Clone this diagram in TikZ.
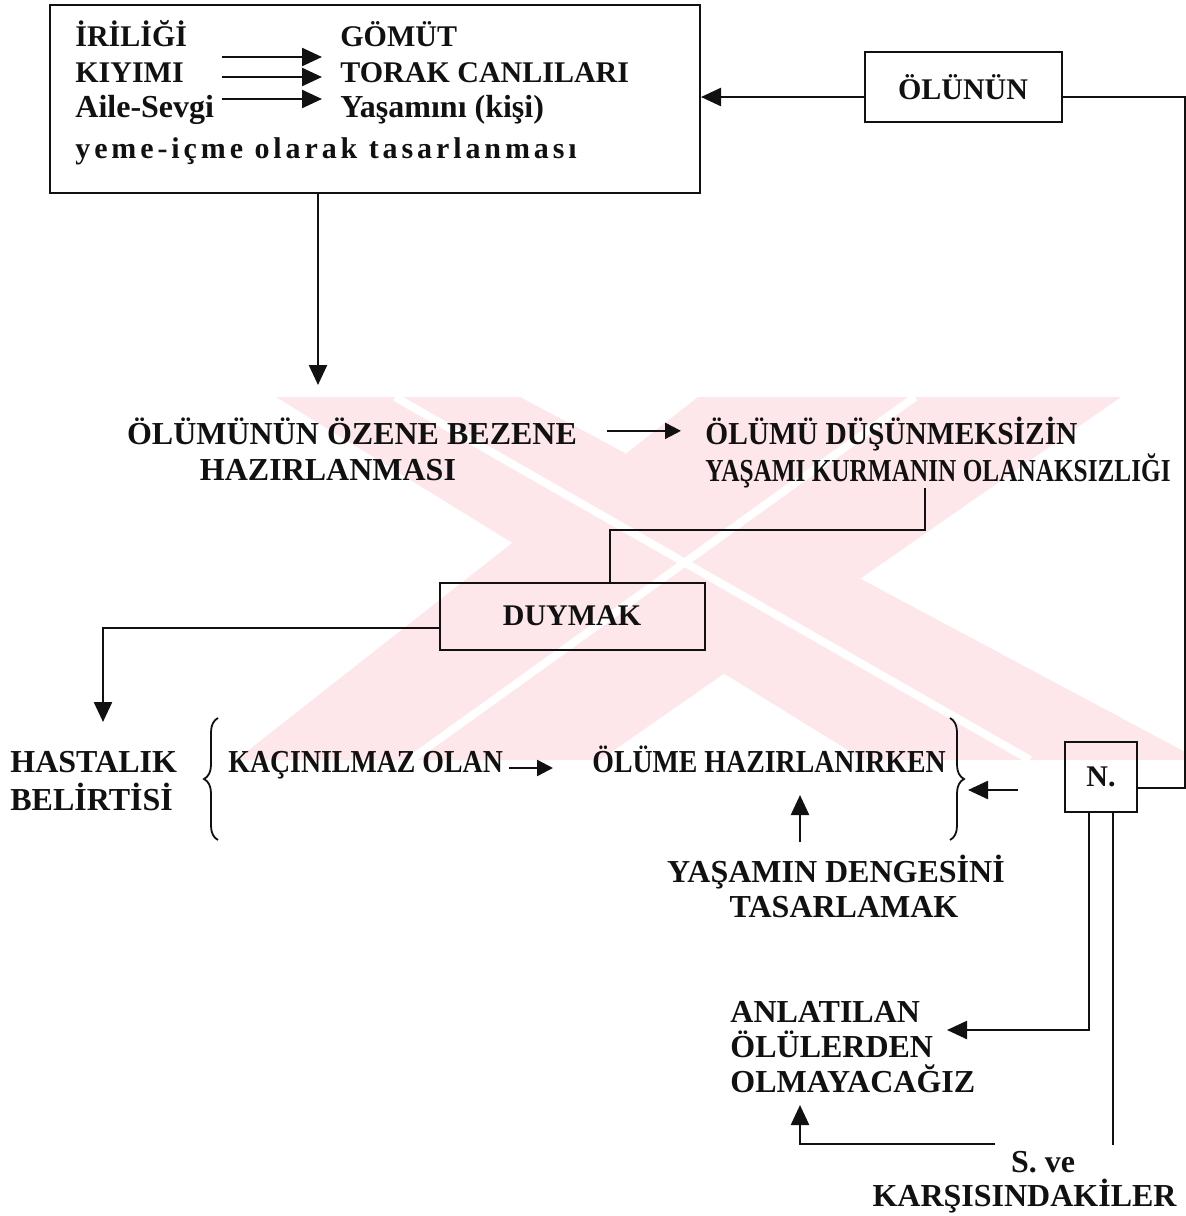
\documentclass[tikz,border=0pt]{standalone}
\usepackage{fontspec}
\setmainfont{Liberation Serif}
\usetikzlibrary{arrows.meta,positioning,decorations.pathreplacing}
\definecolor{ink}{HTML}{111111}
\definecolor{isaret}{HTML}{FDE7EA}
\tikzset{
  every picture/.style={font=\bfseries\fontsize{15}{18}\selectfont, text=ink},
  kutu/.style={draw=ink, line width=1pt, inner sep=0pt},
  yazi/.style={inner sep=0pt, anchor=base west},
  iri yazi/.style={font=\bfseries\fontsize{16}{19}\selectfont},
  ok/.style={-{Triangle[length=10pt,width=9pt]}, draw=ink, line width=1.2pt},
  kisa ok/.style={-{Triangle[length=8pt,width=8pt]}, draw=ink, line width=1.2pt},
  cizgi/.style={draw=ink, line width=1.1pt},
  kume/.style={draw=ink, line width=0.9pt, decorate, decoration={brace, amplitude=7pt}}
}

\begin{document}
\begin{tikzpicture}[x=0.5pt,y=-0.5pt]
  \useasboundingbox (0,0) rectangle (1186,1216);
  % soluk filigran
  \fill[isaret] (276,397) -- (520,397) -- (1200,760) -- (864,760) -- cycle;
  \fill[isaret] (698,397) -- (1121,397) -- (600,760) -- (236,760) -- cycle;
  \draw[white, line width=4pt] (395,397) -- (1030,760);
  \draw[white, line width=4pt] (915,397) -- (410,760);

  % ust kutu
  \node[kutu, minimum width=325pt, minimum height=94pt] (tasarim) at (375,99) {};
  \node[yazi] (iri) at (75,46) {İRİLİĞİ};
  \node[yazi] (kiy) at (75,82) {KIYIMI};
  \node[yazi, iri yazi] (aile) at (75,117) {Aile-Sevgi};
  \node[yazi, font=\bfseries\fontsize{15}{18}\selectfont\addfontfeature{LetterSpace=13}] (yeme) at (75,158) {yeme-içme olarak tasarlanması};
  \node[yazi] (gom) at (340,46) {GÖMÜT};
  \node[yazi] (tor) at (340,82) {TORAK CANLILARI};
  \node[yazi, iri yazi] (yas) at (340,117) {Yaşamını (kişi)};
  \foreach \y [count=\i] in {57,77,99} {
    \coordinate (a\i) at (222,\y);
    \coordinate (b\i) at (322,\y);
    \draw[ok] (a\i) -- (b\i);
  }

  % olunun
  \node[kutu, minimum width=98.5pt, minimum height=35pt] (olunun) at (963,87) {ÖLÜNÜN};
  \draw[ok] ([yshift=-5pt]olunun.west) -- ([yshift=-5pt]olunun.west -| tasarim.east);
  \coordinate (o1) at (318,385);
  \draw[ok] (o1 |- tasarim.south) -- (o1);

  % orta satir
  \node[yazi, iri yazi, anchor=base] (ozen1) at (352,444) {ÖLÜMÜNÜN ÖZENE BEZENE};
  \node[yazi, iri yazi, anchor=base] (ozen2) at (328,480) {HAZIRLANMASI};
  \node[yazi, iri yazi, xscale=0.92] (dusun1) at (705,444) {ÖLÜMÜ DÜŞÜNMEKSİZİN};
  \node[yazi, iri yazi, xscale=0.79] (dusun2) at (705,481) {YAŞAMI KURMANIN OLANAKSIZLIĞI};
  \draw[kisa ok] ([xshift=15pt]ozen1.east) -- ([xshift=-12pt]ozen1.east -| dusun1.west);

  % duymak
  \node[kutu, minimum width=132.5pt, minimum height=33.5pt] (duymak) at (572,616) {DUYMAK};
  \coordinate (d1) at (925,530);
  \draw[cizgi] (d1 |- dusun2.south) -- (d1) -| ([xshift=19pt]duymak.north);
  \coordinate (h1) at (103,722);
  \draw[ok] ([yshift=-6pt]duymak.west) -| (h1);

  % hastalik ve kume
  \node[yazi, iri yazi] (hast1) at (10,772) {HASTALIK};
  \node[yazi, iri yazi] (hast2) at (10,810) {BELİRTİSİ};
  \draw[kume] (218,840) -- (218,718);
  \draw[kume] (950,718) -- (950,840);
  \node[yazi, iri yazi, xscale=0.87] (kacin) at (228,772) {KAÇINILMAZ OLAN};
  \node[yazi, iri yazi, xscale=0.87] (olume) at (592,772) {ÖLÜME HAZIRLANIRKEN};
  \draw[kisa ok] ([xshift=3pt,yshift=2pt]kacin.base east) -- ([yshift=2pt]553,772);
  \node[yazi, iri yazi, anchor=base] (denge1) at (836,882) {YAŞAMIN DENGESİNİ};
  \node[yazi, iri yazi, anchor=base] (denge2) at (844,917) {TASARLAMAK};
  \coordinate (u1) at (800,795);
  \draw[ok] ([yshift=6pt]denge1.north -| u1) -- (u1);

  % N.
  \node[kutu, minimum width=36pt, minimum height=35pt] (n) at (1101,777) {N.};
  \coordinate (sag) at (1185,788);
  \draw[cizgi] ([yshift=-5pt]olunun.east) -| (sag) -- (sag -| n.east);
  \coordinate (r1) at (1018,790);
  \coordinate (rb) at (968,790);
  \draw[ok] (r1) -- (rb);

  % alt kisim
  \node[yazi, iri yazi] (anl1) at (730,1022) {ANLATILAN};
  \node[yazi, iri yazi] (anl2) at (730,1057) {ÖLÜLERDEN};
  \node[yazi, iri yazi] (anl3) at (730,1092) {OLMAYACAĞIZ};
  \coordinate (l1) at (947,1030);
  \draw[ok] ([xshift=-6pt]n.south) |- (l1);
  \coordinate (l2) at (1113,1145);
  \draw[cizgi] ([xshift=6pt]n.south) -- (l2);
  \node[yazi, iri yazi, anchor=base] (sve1) at (1043,1172) {S. ve};
  \node[yazi, iri yazi, anchor=base east] (sve2) at (1177,1206) {KARŞISINDAKİLER};
  \coordinate (l3) at (995,1144);
  \coordinate (l4) at (800,1105);
  \draw[ok] (l3) -| (l4);
\end{tikzpicture}
\end{document}
